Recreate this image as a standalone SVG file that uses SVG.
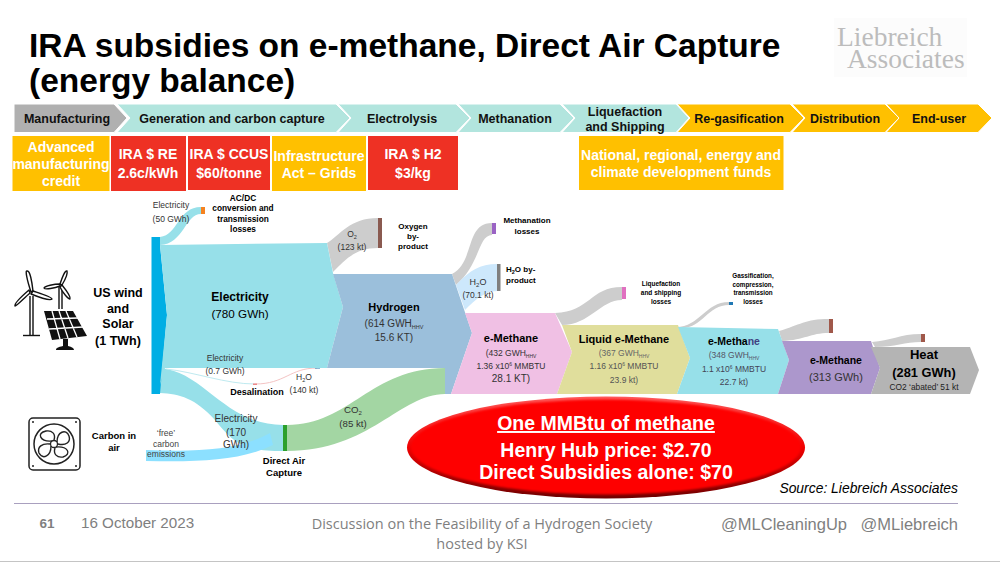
<svg xmlns="http://www.w3.org/2000/svg" width="1000" height="562" viewBox="0 0 1000 562">
<style>
text{font-family:"Liberation Sans",Arial,sans-serif;text-anchor:middle;fill:#000}
.b{font-weight:700}
.title{font-size:33.500px;font-weight:700;text-anchor:start}
.ch{font-size:12.5px;font-weight:700;fill:#111}
.chev{stroke:#fff;stroke-width:1}
.wh{fill:#fff;font-weight:700;font-size:14px}
.g{fill:#333}
.s9{font-size:9px}.s10{font-size:10px}.s8{font-size:8.5px}
.flowg{fill:#CDCDCD}
.foot{fill:#7f7f7f}
.cal{font-size:19.500px;font-weight:700;fill:#fff}
</style>
<defs>
<linearGradient id="rim" x1="0" y1="0" x2="0" y2="1"><stop offset="0" stop-color="#ff5a5a"/><stop offset=".5" stop-color="#f00000"/><stop offset="1" stop-color="#6e0000"/></linearGradient>
<filter id="soft" x="-5%" y="-10%" width="110%" height="120%"><feGaussianBlur stdDeviation="1.2"/></filter>
</defs>
<rect width="1000" height="562" fill="#fff"/>
<text class="title" x="29" y="57">IRA subsidies on e-methane, Direct Air Capture</text>
<text class="title" x="29" y="92">(energy balance)</text>
<g id="logo"><rect x="834" y="18" width="133" height="59" fill="#fcfcfc"/>
<text x="837" y="46" style="font-family:'Liberation Serif',serif;font-size:27.500px;text-anchor:start;fill:#bcbcbc">Liebreich</text>
<text x="847" y="68" style="font-family:'Liberation Serif',serif;font-size:27.500px;text-anchor:start;fill:#bcbcbc">Associates</text></g>

<g id="stage-manufacturing"><polygon class="chev" points="14,104 114,104 127,118 114,132.5 14,132.5" fill="#b0b0b0"/><text class="ch" x="67" y="123">Manufacturing</text></g>
<g id="stage-generation"><polygon class="chev" points="117,104 336,104 350,118 336,132.5 117,132.5 130,118" fill="#b2e5de"/><text class="ch" x="232" y="123">Generation and carbon capture</text></g>
<g id="stage-electrolysis"><polygon class="chev" points="338,104 456,104 470,118 456,132.5 338,132.5 351,118" fill="#b2e5de"/><text class="ch" x="402" y="123">Electrolysis</text></g>
<g id="stage-methanation"><polygon class="chev" points="458,104 560,104 574,118 560,132.5 458,132.5 471,118" fill="#b2e5de"/><text class="ch" x="515" y="123">Methanation</text></g>
<g id="stage-liquefaction"><polygon class="chev" points="562,104 676,104 689,118 676,132.5 562,132.5 575,118" fill="#b2e5de"/><text class="ch" x="625" y="116">Liquefaction</text><text class="ch" x="625" y="131">and Shipping</text></g>
<g id="stage-regas"><polygon class="chev" points="677,104 790,104 804,118 790,132.5 677,132.5 690,118" fill="#ffc000"/><text class="ch" x="739" y="123">Re-gasification</text></g>
<g id="stage-distribution"><polygon class="chev" points="792,104 885,104 899,118 885,132.5 792,132.5 805,118" fill="#ffc000"/><text class="ch" x="845" y="123">Distribution</text></g>
<g id="stage-enduser"><polygon class="chev" points="886,104 978,104 992,118 978,132.5 886,132.5 899,118" fill="#ffc000"/><text class="ch" x="939" y="123">End-user</text></g>

<g id="box-advanced"><rect x="12.500" y="136" width="97" height="55" fill="#ffc000"/><text class="wh" x="61" y="152">Advanced</text><text class="wh" x="61" y="169">manufacturing</text><text class="wh" x="61" y="186">credit</text></g>
<g id="box-re"><rect x="111" y="136" width="75" height="55" fill="#ee3124"/><text class="wh" x="148" y="159">IRA $ RE</text><text class="wh" x="148" y="178">2.6c/kWh</text></g>
<g id="box-ccus"><rect x="188" y="136" width="82" height="54" fill="#ee3124"/><text class="wh" x="229" y="159">IRA $ CCUS</text><text class="wh" x="229" y="178">$60/tonne</text></g>
<g id="box-grids"><rect x="272" y="136" width="94" height="55" fill="#ffc000"/><text class="wh" x="319" y="161">Infrastructure</text><text class="wh" x="319" y="178">Act – Grids</text></g>
<g id="box-h2"><rect x="368" y="136" width="90" height="54" fill="#ee3124"/><text class="wh" x="413" y="159">IRA $ H2</text><text class="wh" x="413" y="178">$3/kg</text></g>
<g id="box-funds"><rect x="579" y="136" width="204.500" height="54" fill="#ffc000"/><text class="wh" x="681" y="160">National, regional, energy and</text><text class="wh" x="681" y="177">climate development funds</text></g>

<g id="connectors">
<path d="M160,237 C178,235 178,207 201,207 L201,214 C185,214 184,244 160,245Z" fill="#97e0e9"/>
<path d="M160,368 C205,372 225,425 283,425 L283,451 C245,451 235,445 215,420 C195,398 180,394 160,393Z" fill="#97e0e9"/>
<path d="M146,450 C200,452 240,450 270,433 L273,445 C240,461 200,462 146,461Z" fill="#8ce0ff"/>
<path d="M287,425 C350,425 370,368 445,368 L445,394 C400,394 370,451 287,451Z" fill="#a3d6a3"/>
<path d="M327,243 C340,235 350,218 378,218 L378,248 C355,248 345,260 333,272Z" class="flowg"/>
<path d="M452,274 C475,262 465,223 492,223 L492,235 C478,235 480,265 456,285Z" class="flowg"/>
<path d="M456,285 C470,270 480,264 497,264 L497,291 C485,291 475,300 465,310Z" fill="#cde8fc"/>
<path d="M555,313 C590,312 590,287 622,287 L622,300 C600,300 590,325 562,325Z" class="flowg"/>
<path d="M676,327 C700,327 705,302 729,302 L729,305 C708,305 702,328 682,328Z" class="flowg"/>
<path d="M779,331 C800,325 805,319 829,319 L829,333 C810,333 805,340 782,341Z" class="flowg"/>
<path d="M872,342 C890,341 900,334 921,334 L921,342 C905,342 895,347 875,347Z" class="flowg"/>
<path d="M166,369 C195,372 225,384 255,384" fill="none" stroke="#bfeaf0" stroke-width="1"/>
<path d="M255,384 C285,384 290,368 317,368" fill="none" stroke="#f4c4c4" stroke-width="1"/>
<rect x="201" y="207" width="4" height="7" fill="#f58220"/>
<rect x="378" y="218" width="4" height="30" fill="#8a5a50"/>
<rect x="492" y="223" width="4" height="11" fill="#9a63c4"/>
<rect x="497" y="264" width="3.500" height="27" fill="#808080"/>
<rect x="622" y="287" width="4" height="12" fill="#e070c0"/>
<rect x="729" y="302" width="4" height="3" fill="#1f78b4"/>
<rect x="829" y="319" width="4" height="14" fill="#a0584a"/>
<rect x="921" y="334" width="4" height="8" fill="#a0584a"/>
<rect x="253" y="383.500" width="4" height="1.500" fill="#e88"/>
<rect x="315" y="367" width="5" height="1.500" fill="#1f78b4"/>
<rect x="445" y="392" width="5" height="2" fill="#8a7cc8"/>
<rect x="283" y="425" width="4" height="26" fill="#2ca02c"/>
</g>

<g id="node-source"><polygon points="151.500,237 160,237 160,245 167,315 160,394 151.500,394" fill="#00aee4"/></g>
<g id="node-electricity"><polygon points="160,245 327,243 333,273 343,307 327,368 165,368 160,385 167,315" fill="#97e0e9"/><text class="b" x="240" y="301" style="font-size:12px">Electricity</text><text x="240" y="318" style="font-size:11.700px" fill="#222">(780 GWh)</text></g>
<g id="node-hydrogen"><polygon points="333,274 452,274 472,333 451,394 445,394 445,368 327,368 343,307" fill="#9bbfdb"/><text class="b" x="394" y="311" style="font-size:11px">Hydrogen</text><text class="g s10" x="394" y="327">(614 GWH<tspan style="font-size:5.500px" dy="2">HHV</tspan></text><text class="g s10" x="394" y="341">15.6 KT)</text></g>
<g id="node-emethane"><polygon points="465,313 555,313 572,352 557,394 451,394 472,333" fill="#f0c0e4"/><text class="b" x="511" y="342" style="font-size:11px">e-Methane</text><text class="g s8" x="511" y="356">(432 GWH<tspan style="font-size:5px" dy="2">HHV</tspan></text><text class="g s8" x="511" y="368.500">1.36 x10<tspan style="font-size:5px" dy="-3">6</tspan><tspan dy="3"> MMBTU</tspan></text><text class="g s10" x="511" y="382">28.1 KT)</text></g>
<g id="node-liquid"><polygon points="562,325 678,325 690,358 677,394 557,394 572,352" fill="#e0de9c"/><text class="b" x="624" y="343" style="font-size:11px">Liquid e-Methane</text><text class="s8" x="624" y="356" style="fill:#666">(367 GWH<tspan style="font-size:5px" dy="2">HHV</tspan></text><text class="s8" x="624" y="369" style="fill:#555">1.16 x10<tspan style="font-size:5px" dy="-3">6</tspan><tspan dy="3"> MMBTU</tspan></text><text class="s8" x="624" y="382.500" style="fill:#555">23.9 kt)</text></g>
<g id="node-emethane2"><polygon points="678,327 778,329 789,360 778,394 677,394 690,358" fill="#97e0e9"/><text class="b" x="734" y="345" style="font-size:10.500px">e-Metha<tspan style="fill:#404080">ne</tspan></text><text class="s8" x="734" y="358" style="fill:#556">(348 GWH<tspan style="font-size:5px" dy="2">HHV</tspan></text><text class="s8" x="734" y="372" style="fill:#445">1.1 x10<tspan style="font-size:5px" dy="-3">6</tspan><tspan dy="3"> MMBTU</tspan></text><text class="s8" x="734" y="385" style="fill:#445">22.7 kt)</text></g>
<g id="node-emethane3"><polygon points="782,341 871,341 880,368 871,394 778,394 789,360" fill="#ac97cc"/><text class="b" x="836" y="364" style="font-size:10.500px">e-Methane</text><text x="836" y="381" style="font-size:11px;fill:#333">(313 GWh)</text></g>
<g id="node-heat"><polygon points="871,347 970,347 979,370 970,394 871,394 880,368" fill="#b4b4b4"/><text class="b" x="924" y="359" style="font-size:13px">Heat</text><text class="b" x="924" y="377" style="font-size:12.800px">(281 GWh)</text><text x="924" y="390" style="font-size:8.400px;fill:#222">CO2 ‘abated’ 51 kt</text></g>

<g id="node-wind-solar">
<g fill="#fff" stroke="#111" stroke-width="1.400" stroke-linejoin="round">
<path d="M30,335 L30,296 M33,296 L33,335" fill="none"/>
<path d="M23,335.500 H40" fill="none"/>
<path d="M31,292 C27,280 25,270 27,271 C30,270 32,282 33,291Z"/>
<path d="M33,291 C42,294 52,297 52,299 C50,301 41,298 31,294Z"/>
<path d="M30,293 C24,298 17,306 15,306 C14,303 22,296 29,290Z"/>
<path d="M59,309 V286 M62,309 V286" fill="none"/>
<path d="M60,284 C62,278 65,270 67,271 C68,274 65,280 62,285Z"/>
<path d="M62,285 C66,290 71,297 70,299 C68,299 63,293 60,287Z"/>
<path d="M60,286 C55,288 45,290 44,288 C45,286 54,284 60,284Z"/>
</g>
<polygon points="44,311 73,311 87,336 52,340" fill="#111"/>
<g stroke="#fff" stroke-width="1.300"><path d="M52,311 L60,339 M59,311 L68,338 M66,311 L77,337 M47,319 L78,318 M49,329 L83,327"/></g>
<path d="M63,339 H68 V346 C72,347 74,348 74,350 H56 C56,348 58,347 63,346Z" fill="#111"/>
<text class="b" x="118" y="297" style="font-size:12.500px">US wind</text><text class="b" x="118" y="313" style="font-size:12.500px">and</text><text class="b" x="118" y="328" style="font-size:12.500px">Solar</text><text class="b" x="118" y="345" style="font-size:12.500px">(1 TWh)</text>
</g>
<g id="node-carbon-air">
<rect x="29" y="418" width="51" height="52" rx="4" fill="#fff" stroke="#222" stroke-width="1.500"/>
<circle cx="54" cy="444" r="20" fill="none" stroke="#222" stroke-width="1.500"/>
<circle cx="54" cy="444" r="3.500" fill="#fff" stroke="#222" stroke-width="1.300"/>
<g fill="none" stroke="#222" stroke-width="1.400"><path d="M52,441 C40,442 36,433 46,431 C52,430 56,434 54,440"/><path d="M57,442 C57,432 66,428 69,436 C71,442 66,446 58,444"/><path d="M56,447 C68,446 72,454 63,457 C57,458 53,454 55,448"/><path d="M51,446 C51,456 43,460 39,453 C37,447 42,443 50,444"/></g>
<g fill="#222"><circle cx="33" cy="422" r="1"/><circle cx="76" cy="422" r="1"/><circle cx="33" cy="466" r="1"/><circle cx="76" cy="466" r="1"/></g>
<text class="b" x="114" y="439" style="font-size:9.500px">Carbon in</text><text class="b" x="114" y="451" style="font-size:9.500px">air</text>
</g>
<g id="labels">
<text class="g s8" x="171" y="208">Electricity</text><text class="g s8" x="171" y="222">(50 GWh)</text>
<text class="b" x="243" y="201" style="font-size:8.300px">AC/DC</text><text class="b" x="243" y="211" style="font-size:8.300px">conversion and</text><text class="b" x="243" y="221.500" style="font-size:8.300px">transmission</text><text class="b" x="243" y="232" style="font-size:8.300px">losses</text>
<text class="g s8" x="225" y="361">Electricity</text><text class="g s8" x="225" y="374">(0.7 GWh)</text>
<text class="b s9" x="257" y="395">Desalination</text>
<text class="g s8" x="304" y="380">H<tspan style="font-size:5.500px" dy="2">2</tspan><tspan dy="-2">O</tspan></text><text class="g s8" x="304" y="393">(140 kt)</text>
<text class="g s10" x="236" y="422">Electricity</text><text class="g s10" x="236" y="436">(170</text><text class="g s10" x="236" y="448">GWh)</text>
<text class="s8" x="166" y="436" style="fill:#444">‘free’</text><text class="s8" x="166" y="447" style="fill:#444">carbon</text><text class="s8" x="166" y="457" style="fill:#444">emissions</text>
<text class="b" x="284" y="464" style="font-size:9.500px">Direct Air</text><text class="b" x="284" y="476" style="font-size:9.500px">Capture</text>
<text class="g" x="353" y="413" style="font-size:9.700px">CO<tspan style="font-size:6px" dy="2">2</tspan></text><text class="g" x="353" y="427" style="font-size:9.700px">(85 kt)</text>
<text class="g s8" x="352" y="237">O<tspan style="font-size:5.500px" dy="2">2</tspan></text><text class="g s8" x="352" y="250">(123 kt)</text>
<text class="b" x="413" y="229" style="font-size:8px">Oxygen</text><text class="b" x="413" y="239" style="font-size:8px">by-</text><text class="b" x="413" y="249" style="font-size:8px">product</text>
<text class="b" x="527" y="223" style="font-size:8px">Methanation</text><text class="b" x="527" y="234" style="font-size:8px">losses</text>
<text class="b" x="506" y="272" style="font-size:8px;text-anchor:start">H<tspan style="font-size:5.500px" dy="2">2</tspan><tspan dy="-2">O by-</tspan></text><text class="b" x="506" y="283" style="font-size:8px;text-anchor:start">product</text>
<text class="g s9" x="478" y="285">H<tspan style="font-size:6px" dy="2">2</tspan><tspan dy="-2">O</tspan></text><text class="g s8" x="478" y="298">(70.1 kt)</text>
<text class="b" x="661" y="286" style="font-size:6.500px">Liquefaction</text><text class="b" x="661" y="295" style="font-size:6.500px">and shipping</text><text class="b" x="661" y="303.500" style="font-size:6.500px">losses</text>
<text class="b" x="753" y="278" style="font-size:6.300px">Gassification,</text><text class="b" x="753" y="287" style="font-size:6.300px">compression,</text><text class="b" x="753" y="295" style="font-size:6.300px">transmission</text><text class="b" x="753" y="304" style="font-size:6.300px">losses</text>
</g>
<g id="callout">
<ellipse cx="606" cy="447.500" rx="199" ry="51" fill="url(#rim)"/>
<ellipse cx="606" cy="447" rx="195" ry="47.500" fill="#fe0000" filter="url(#soft)"/>
<text class="cal" x="606" y="430" style="text-decoration:underline">One MMBtu of methane</text>
<text class="cal" x="606" y="457">Henry Hub price: $2.70</text>
<text class="cal" x="606" y="479">Direct Subsidies alone: $70</text>
</g>
<text x="958" y="493" style="font-size:13.900px;font-style:italic;text-anchor:end">Source: Liebreich Associates</text>
<g id="footer">
<path d="M14,503.500 H958" stroke="#a9a0bf" stroke-width="1"/>
<path d="M0,561.500 H1000" stroke="#c4c4c4" stroke-width="1"/>
<text class="foot b" x="47" y="528" style="font-size:13.500px">61</text>
<text class="foot" x="81" y="528" style="font-size:15.200px;text-anchor:start">16 October 2023</text>
<text class="foot" x="482" y="529" style="font-family:'Open Sans',sans-serif;font-size:14.500px">Discussion on the Feasibility of a Hydrogen Society</text>
<text class="foot" x="482" y="549" style="font-family:'Open Sans',sans-serif;font-size:14.500px">hosted by KSI</text>
<text class="foot" x="847" y="530" style="font-size:16.500px;text-anchor:end">@MLCleaningUp</text>
<text class="foot" x="958" y="530" style="font-size:16.500px;text-anchor:end">@MLiebreich</text>
</g>
</svg>
